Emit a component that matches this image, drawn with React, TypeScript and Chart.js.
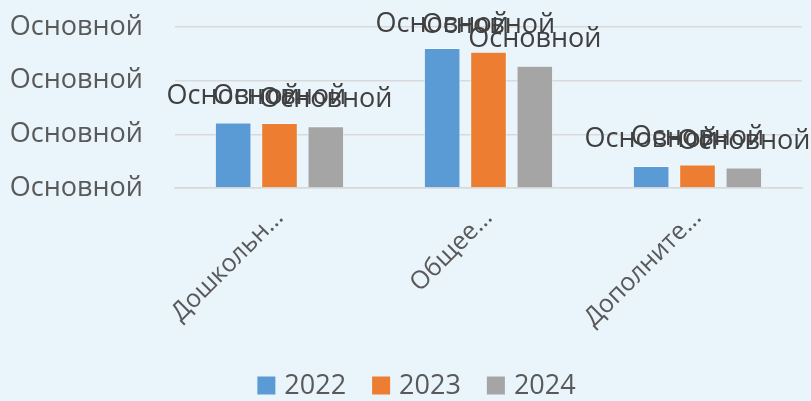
import React, { useEffect, useRef } from "react";
import { Chart, registerables } from "chart.js";

Chart.register(...registerables);

const categories = ["Дошкольн…", "Общее…", "Дополните…"];
const seriesNames = ["2022", "2023", "2024"];
const values2022 = [1.22, 2.61, 0.41];
const values2023 = [1.21, 2.54, 0.44];
const values2024 = [1.15, 2.28, 0.38];
const tickLabel = "Основной";
const dataLabel = "Основной";
const colors = ["#5B9BD5", "#ED7D31", "#A5A5A5"];

const FONT = "'Open Sans', sans-serif";

const dataLabelPlugin = {
  id: "dataLabels",
  afterDatasetsDraw(chart: any) {
    const ctx = chart.ctx;
    ctx.save();
    ctx.font = `27px ${FONT}`;
    ctx.fillStyle = "#404040";
    ctx.textAlign = "center";
    ctx.textBaseline = "alphabetic";
    chart.data.datasets.forEach((_ds: any, i: number) => {
      const meta = chart.getDatasetMeta(i);
      meta.data.forEach((el: any) => {
        const y = Math.max(el.y - 19, 32);
        ctx.fillText(dataLabel, el.x, y);
      });
    });
    ctx.restore();
  },
};

const legendPlugin = {
  id: "bottomLegend",
  afterDraw(chart: any) {
    const ctx = chart.ctx;
    ctx.save();
    ctx.font = `27px ${FONT}`;
    ctx.textBaseline = "middle";
    ctx.textAlign = "left";
    const box = 18;
    const gap = 9;
    const itemGap = 26;
    const items = chart.data.datasets.map((ds: any) => ({
      text: String(ds.label),
      color: ds.backgroundColor,
      w: ctx.measureText(String(ds.label)).width,
    }));
    const total =
      items.reduce((s: number, it: any) => s + box + gap + it.w, 0) +
      itemGap * (items.length - 1);
    let x = chart.width / 2 + 11 - total / 2;
    const cy = 385.5;
    items.forEach((it: any) => {
      ctx.fillStyle = it.color;
      ctx.fillRect(x, cy - box / 2, box, box);
      ctx.fillStyle = "#595959";
      ctx.fillText(it.text, x + box + gap, cy + 1);
      x += box + gap + it.w + itemGap;
    });
    ctx.restore();
  },
};

export default function App() {
  const ref = useRef<HTMLCanvasElement | null>(null);
  useEffect(() => {
    if (!ref.current) return;
    const chart = new Chart(ref.current, {
      type: "bar",
      data: {
        labels: categories,
        datasets: [values2022, values2023, values2024].map((v, i) => ({
          label: seriesNames[i],
          data: v,
          backgroundColor: colors[i],
          borderColor: "rgba(255,255,255,0.45)",
          borderWidth: 1,
          categoryPercentage: 0.665,
          barPercentage: 0.79,
        })),
      },
      options: {
        responsive: false,
        animation: false,
        layout: { padding: { left: 8, right: 9, top: 27, bottom: 50.5 } },
        plugins: {
          tooltip: { enabled: false },
          legend: { display: false },
        },
        scales: {
          x: {
            grid: { display: false, drawTicks: false },
            border: { display: true, color: "#D9D9D9", width: 1.5 },
            ticks: {
              color: "#595959",
              font: { family: FONT, size: 25 },
              minRotation: 45,
              maxRotation: 45,
              autoSkip: false,
              padding: 15,
            },
            afterFit: (axis: any) => {
              axis.height = 162.5;
            },
          },
          y: {
            min: 0,
            max: 3,
            ticks: {
              stepSize: 1,
              color: "#595959",
              font: { family: FONT, size: 27 },
              padding: 0,
              callback: () => tickLabel,
            },
            grid: {
              color: "#D9D9D9",
              lineWidth: 1.5,
              drawTicks: true,
              tickLength: 32,
              tickColor: "rgba(0,0,0,0)",
            },
            border: { display: false },
            afterFit: (axis: any) => {
              axis.width = 167;
            },
          },
        },
      },
      plugins: [dataLabelPlugin, legendPlugin],
    });
    return () => chart.destroy();
  }, []);
  return (
    <div style={{ position: "fixed", inset: 0, background: "#EAF4FB" }}>
      <canvas ref={ref} width={811} height={401} style={{ display: "block" }} />
    </div>
  );
}
